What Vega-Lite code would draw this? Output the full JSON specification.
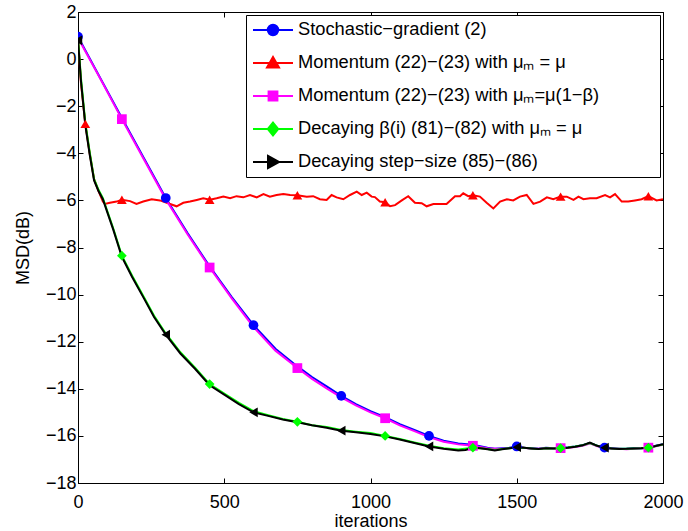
{
  "$schema": "https://vega.github.io/schema/vega-lite/v6.json",
  "width": 585,
  "height": 471,
  "autosize": {"type": "none"},
  "padding": {"left": 78, "top": 12, "right": 25, "bottom": 48},
  "background": "white",
  "config": {
    "view": {"stroke": "black", "strokeWidth": 1},
    "axis": {
      "grid": false,
      "labelFont": "Liberation Sans",
      "labelFontSize": 18,
      "labelColor": "black",
      "titleFont": "Liberation Sans",
      "titleFontSize": 18,
      "titleFontWeight": "normal",
      "titleColor": "black",
      "tickColor": "black",
      "tickWidth": 1,
      "domainColor": "black",
      "tickSize": -5,
      "labelFlush": false
    },
    "legend": {
      "labelFont": "Liberation Sans",
      "labelFontSize": 18.3,
      "labelColor": "black"
    }
  },
  "datasets": {
    "curves": [
      {"s": "A", "i": 0, "v": 0.95}, {"s": "A", "i": 75, "v": -0.78}, {"s": "A", "i": 150, "v": -2.5}, {"s": "A", "i": 225, "v": -4.2},
      {"s": "A", "i": 300, "v": -5.9}, {"s": "A", "i": 375, "v": -7.4}, {"s": "A", "i": 450, "v": -8.8}, {"s": "A", "i": 525, "v": -10.1},
      {"s": "A", "i": 600, "v": -11.3}, {"s": "A", "i": 675, "v": -12.3}, {"s": "A", "i": 750, "v": -13.05}, {"s": "A", "i": 800, "v": -13.5},
      {"s": "A", "i": 850, "v": -13.9}, {"s": "A", "i": 900, "v": -14.3}, {"s": "A", "i": 950, "v": -14.65}, {"s": "A", "i": 1000, "v": -14.95},
      {"s": "A", "i": 1050, "v": -15.2}, {"s": "A", "i": 1100, "v": -15.5}, {"s": "A", "i": 1150, "v": -15.75}, {"s": "A", "i": 1200, "v": -16.0},
      {"s": "A", "i": 1250, "v": -16.2}, {"s": "A", "i": 1300, "v": -16.32}, {"s": "A", "i": 1350, "v": -16.38}, {"s": "A", "i": 1400, "v": -16.5},
      {"s": "A", "i": 1425, "v": -16.55}, {"s": "A", "i": 1450, "v": -16.52}, {"s": "A", "i": 1475, "v": -16.5}, {"s": "A", "i": 1500, "v": -16.45},
      {"s": "A", "i": 1525, "v": -16.5}, {"s": "A", "i": 1550, "v": -16.52}, {"s": "A", "i": 1575, "v": -16.55}, {"s": "A", "i": 1600, "v": -16.5},
      {"s": "A", "i": 1625, "v": -16.52}, {"s": "A", "i": 1650, "v": -16.5}, {"s": "A", "i": 1675, "v": -16.48}, {"s": "A", "i": 1700, "v": -16.45},
      {"s": "A", "i": 1725, "v": -16.4}, {"s": "A", "i": 1750, "v": -16.3}, {"s": "A", "i": 1775, "v": -16.42}, {"s": "A", "i": 1800, "v": -16.5},
      {"s": "A", "i": 1825, "v": -16.52}, {"s": "A", "i": 1850, "v": -16.55}, {"s": "A", "i": 1875, "v": -16.55}, {"s": "A", "i": 1900, "v": -16.52},
      {"s": "A", "i": 1925, "v": -16.52}, {"s": "A", "i": 1950, "v": -16.5}, {"s": "A", "i": 1975, "v": -16.42}, {"s": "A", "i": 2000, "v": -16.35},

      {"s": "B", "i": 0, "v": 0.9}, {"s": "B", "i": 10, "v": -1.0}, {"s": "B", "i": 25, "v": -2.75}, {"s": "B", "i": 40, "v": -4.0},
      {"s": "B", "i": 55, "v": -5.1}, {"s": "B", "i": 70, "v": -5.6}, {"s": "B", "i": 85, "v": -6.05}, {"s": "B", "i": 92, "v": -6.15},
      {"s": "B", "i": 109, "v": -6.1}, {"s": "B", "i": 132, "v": -6.05}, {"s": "B", "i": 150, "v": -5.97}, {"s": "B", "i": 178, "v": -6.03},
      {"s": "B", "i": 200, "v": -6.15}, {"s": "B", "i": 223, "v": -6.05}, {"s": "B", "i": 252, "v": -5.95}, {"s": "B", "i": 280, "v": -6.0},
      {"s": "B", "i": 315, "v": -6.15}, {"s": "B", "i": 337, "v": -6.25}, {"s": "B", "i": 360, "v": -6.1}, {"s": "B", "i": 383, "v": -6.05},
      {"s": "B", "i": 406, "v": -5.98}, {"s": "B", "i": 428, "v": -5.91}, {"s": "B", "i": 451, "v": -5.97}, {"s": "B", "i": 474, "v": -5.91},
      {"s": "B", "i": 497, "v": -5.84}, {"s": "B", "i": 520, "v": -5.91}, {"s": "B", "i": 542, "v": -5.82}, {"s": "B", "i": 565, "v": -5.87},
      {"s": "B", "i": 588, "v": -5.77}, {"s": "B", "i": 611, "v": -5.87}, {"s": "B", "i": 634, "v": -5.73}, {"s": "B", "i": 656, "v": -5.84},
      {"s": "B", "i": 679, "v": -5.77}, {"s": "B", "i": 702, "v": -5.73}, {"s": "B", "i": 725, "v": -5.77}, {"s": "B", "i": 750, "v": -5.78},
      {"s": "B", "i": 782, "v": -5.84}, {"s": "B", "i": 804, "v": -5.82}, {"s": "B", "i": 827, "v": -5.95}, {"s": "B", "i": 850, "v": -5.98},
      {"s": "B", "i": 867, "v": -5.77}, {"s": "B", "i": 884, "v": -5.87}, {"s": "B", "i": 907, "v": -5.95}, {"s": "B", "i": 930, "v": -5.77},
      {"s": "B", "i": 953, "v": -5.63}, {"s": "B", "i": 970, "v": -5.77}, {"s": "B", "i": 987, "v": -5.67}, {"s": "B", "i": 1004, "v": -5.84},
      {"s": "B", "i": 1015, "v": -5.86}, {"s": "B", "i": 1032, "v": -6.05}, {"s": "B", "i": 1050, "v": -6.08}, {"s": "B", "i": 1067, "v": -6.25},
      {"s": "B", "i": 1084, "v": -6.2}, {"s": "B", "i": 1107, "v": -6.0}, {"s": "B", "i": 1129, "v": -5.82}, {"s": "B", "i": 1152, "v": -6.1},
      {"s": "B", "i": 1175, "v": -6.12}, {"s": "B", "i": 1192, "v": -6.25}, {"s": "B", "i": 1215, "v": -6.15}, {"s": "B", "i": 1238, "v": -6.15},
      {"s": "B", "i": 1260, "v": -6.15}, {"s": "B", "i": 1289, "v": -5.82}, {"s": "B", "i": 1306, "v": -5.82}, {"s": "B", "i": 1317, "v": -5.7},
      {"s": "B", "i": 1334, "v": -5.82}, {"s": "B", "i": 1351, "v": -5.78}, {"s": "B", "i": 1374, "v": -5.84}, {"s": "B", "i": 1397, "v": -6.1},
      {"s": "B", "i": 1420, "v": -6.34}, {"s": "B", "i": 1443, "v": -6.05}, {"s": "B", "i": 1466, "v": -5.95}, {"s": "B", "i": 1488, "v": -6.0},
      {"s": "B", "i": 1511, "v": -5.84}, {"s": "B", "i": 1534, "v": -5.77}, {"s": "B", "i": 1557, "v": -6.15}, {"s": "B", "i": 1580, "v": -6.05},
      {"s": "B", "i": 1603, "v": -5.87}, {"s": "B", "i": 1625, "v": -5.95}, {"s": "B", "i": 1648, "v": -5.84}, {"s": "B", "i": 1671, "v": -5.84},
      {"s": "B", "i": 1694, "v": -5.98}, {"s": "B", "i": 1711, "v": -5.84}, {"s": "B", "i": 1728, "v": -5.95}, {"s": "B", "i": 1750, "v": -5.91},
      {"s": "B", "i": 1773, "v": -5.91}, {"s": "B", "i": 1802, "v": -5.77}, {"s": "B", "i": 1819, "v": -5.87}, {"s": "B", "i": 1836, "v": -5.73},
      {"s": "B", "i": 1859, "v": -6.05}, {"s": "B", "i": 1881, "v": -6.05}, {"s": "B", "i": 1904, "v": -6.0}, {"s": "B", "i": 1927, "v": -5.95},
      {"s": "B", "i": 1950, "v": -5.82}, {"s": "B", "i": 1978, "v": -6.0}, {"s": "B", "i": 2000, "v": -5.95},

      {"s": "C", "i": 0, "v": 0.9}, {"s": "C", "i": 75, "v": -0.8}, {"s": "C", "i": 150, "v": -2.55}, {"s": "C", "i": 225, "v": -4.25},
      {"s": "C", "i": 300, "v": -5.95}, {"s": "C", "i": 375, "v": -7.45}, {"s": "C", "i": 450, "v": -8.85}, {"s": "C", "i": 525, "v": -10.15},
      {"s": "C", "i": 600, "v": -11.38}, {"s": "C", "i": 675, "v": -12.38}, {"s": "C", "i": 750, "v": -13.12}, {"s": "C", "i": 800, "v": -13.58},
      {"s": "C", "i": 850, "v": -13.98}, {"s": "C", "i": 900, "v": -14.36}, {"s": "C", "i": 950, "v": -14.7}, {"s": "C", "i": 1000, "v": -15.0},
      {"s": "C", "i": 1050, "v": -15.25}, {"s": "C", "i": 1100, "v": -15.55}, {"s": "C", "i": 1150, "v": -15.8}, {"s": "C", "i": 1200, "v": -16.05},
      {"s": "C", "i": 1250, "v": -16.25}, {"s": "C", "i": 1300, "v": -16.36}, {"s": "C", "i": 1350, "v": -16.42}, {"s": "C", "i": 1400, "v": -16.52},
      {"s": "C", "i": 1425, "v": -16.55}, {"s": "C", "i": 1450, "v": -16.55}, {"s": "C", "i": 1475, "v": -16.52}, {"s": "C", "i": 1500, "v": -16.48},
      {"s": "C", "i": 1525, "v": -16.5}, {"s": "C", "i": 1550, "v": -16.55}, {"s": "C", "i": 1575, "v": -16.55}, {"s": "C", "i": 1600, "v": -16.52},
      {"s": "C", "i": 1625, "v": -16.52}, {"s": "C", "i": 1650, "v": -16.52}, {"s": "C", "i": 1675, "v": -16.5}, {"s": "C", "i": 1700, "v": -16.47},
      {"s": "C", "i": 1725, "v": -16.42}, {"s": "C", "i": 1750, "v": -16.32}, {"s": "C", "i": 1775, "v": -16.44}, {"s": "C", "i": 1800, "v": -16.5},
      {"s": "C", "i": 1825, "v": -16.55}, {"s": "C", "i": 1850, "v": -16.55}, {"s": "C", "i": 1875, "v": -16.57}, {"s": "C", "i": 1900, "v": -16.55},
      {"s": "C", "i": 1925, "v": -16.52}, {"s": "C", "i": 1950, "v": -16.5}, {"s": "C", "i": 1975, "v": -16.44}, {"s": "C", "i": 2000, "v": -16.37},

      {"s": "D", "i": 0, "v": 0.9}, {"s": "D", "i": 10, "v": -0.8}, {"s": "D", "i": 25, "v": -2.7}, {"s": "D", "i": 40, "v": -3.95},
      {"s": "D", "i": 55, "v": -5.1}, {"s": "D", "i": 70, "v": -5.55}, {"s": "D", "i": 85, "v": -5.9}, {"s": "D", "i": 100, "v": -6.45},
      {"s": "D", "i": 120, "v": -7.17}, {"s": "D", "i": 150, "v": -8.35}, {"s": "D", "i": 185, "v": -9.2}, {"s": "D", "i": 225, "v": -10.1},
      {"s": "D", "i": 260, "v": -10.9}, {"s": "D", "i": 300, "v": -11.65}, {"s": "D", "i": 350, "v": -12.45}, {"s": "D", "i": 400, "v": -13.1},
      {"s": "D", "i": 450, "v": -13.8}, {"s": "D", "i": 500, "v": -14.2}, {"s": "D", "i": 550, "v": -14.6}, {"s": "D", "i": 600, "v": -14.95},
      {"s": "D", "i": 650, "v": -15.12}, {"s": "D", "i": 700, "v": -15.28}, {"s": "D", "i": 750, "v": -15.4}, {"s": "D", "i": 800, "v": -15.55},
      {"s": "D", "i": 850, "v": -15.62}, {"s": "D", "i": 900, "v": -15.75}, {"s": "D", "i": 950, "v": -15.82}, {"s": "D", "i": 1000, "v": -15.88},
      {"s": "D", "i": 1050, "v": -16.0}, {"s": "D", "i": 1100, "v": -16.13}, {"s": "D", "i": 1150, "v": -16.28}, {"s": "D", "i": 1200, "v": -16.42},
      {"s": "D", "i": 1250, "v": -16.52}, {"s": "D", "i": 1300, "v": -16.58}, {"s": "D", "i": 1350, "v": -16.5}, {"s": "D", "i": 1375, "v": -16.52},
      {"s": "D", "i": 1400, "v": -16.56}, {"s": "D", "i": 1425, "v": -16.6}, {"s": "D", "i": 1450, "v": -16.56}, {"s": "D", "i": 1475, "v": -16.52},
      {"s": "D", "i": 1500, "v": -16.5}, {"s": "D", "i": 1525, "v": -16.5}, {"s": "D", "i": 1550, "v": -16.53}, {"s": "D", "i": 1575, "v": -16.56},
      {"s": "D", "i": 1600, "v": -16.52}, {"s": "D", "i": 1625, "v": -16.53}, {"s": "D", "i": 1650, "v": -16.52}, {"s": "D", "i": 1675, "v": -16.49},
      {"s": "D", "i": 1700, "v": -16.45}, {"s": "D", "i": 1725, "v": -16.4}, {"s": "D", "i": 1750, "v": -16.3}, {"s": "D", "i": 1775, "v": -16.42},
      {"s": "D", "i": 1800, "v": -16.5}, {"s": "D", "i": 1825, "v": -16.53}, {"s": "D", "i": 1850, "v": -16.55}, {"s": "D", "i": 1875, "v": -16.55},
      {"s": "D", "i": 1900, "v": -16.53}, {"s": "D", "i": 1925, "v": -16.52}, {"s": "D", "i": 1950, "v": -16.5}, {"s": "D", "i": 1975, "v": -16.43},
      {"s": "D", "i": 2000, "v": -16.36},

      {"s": "E", "i": 0, "v": 0.8}, {"s": "E", "i": 10, "v": -0.9}, {"s": "E", "i": 25, "v": -2.8}, {"s": "E", "i": 40, "v": -4.05},
      {"s": "E", "i": 55, "v": -5.15}, {"s": "E", "i": 70, "v": -5.6}, {"s": "E", "i": 85, "v": -5.95}, {"s": "E", "i": 100, "v": -6.5},
      {"s": "E", "i": 120, "v": -7.22}, {"s": "E", "i": 150, "v": -8.4}, {"s": "E", "i": 185, "v": -9.25}, {"s": "E", "i": 225, "v": -10.15},
      {"s": "E", "i": 260, "v": -10.95}, {"s": "E", "i": 300, "v": -11.7}, {"s": "E", "i": 350, "v": -12.5}, {"s": "E", "i": 400, "v": -13.15},
      {"s": "E", "i": 450, "v": -13.85}, {"s": "E", "i": 500, "v": -14.25}, {"s": "E", "i": 550, "v": -14.65}, {"s": "E", "i": 600, "v": -15.0},
      {"s": "E", "i": 650, "v": -15.15}, {"s": "E", "i": 700, "v": -15.3}, {"s": "E", "i": 750, "v": -15.42}, {"s": "E", "i": 800, "v": -15.55},
      {"s": "E", "i": 850, "v": -15.65}, {"s": "E", "i": 900, "v": -15.78}, {"s": "E", "i": 950, "v": -15.85}, {"s": "E", "i": 1000, "v": -15.92},
      {"s": "E", "i": 1050, "v": -16.02}, {"s": "E", "i": 1100, "v": -16.15}, {"s": "E", "i": 1150, "v": -16.3}, {"s": "E", "i": 1200, "v": -16.45},
      {"s": "E", "i": 1250, "v": -16.55}, {"s": "E", "i": 1300, "v": -16.62}, {"s": "E", "i": 1325, "v": -16.6}, {"s": "E", "i": 1350, "v": -16.5},
      {"s": "E", "i": 1375, "v": -16.52}, {"s": "E", "i": 1400, "v": -16.57}, {"s": "E", "i": 1425, "v": -16.62}, {"s": "E", "i": 1450, "v": -16.57},
      {"s": "E", "i": 1475, "v": -16.52}, {"s": "E", "i": 1500, "v": -16.48}, {"s": "E", "i": 1525, "v": -16.5}, {"s": "E", "i": 1550, "v": -16.53},
      {"s": "E", "i": 1575, "v": -16.56}, {"s": "E", "i": 1600, "v": -16.52}, {"s": "E", "i": 1625, "v": -16.54}, {"s": "E", "i": 1650, "v": -16.53},
      {"s": "E", "i": 1675, "v": -16.5}, {"s": "E", "i": 1700, "v": -16.46}, {"s": "E", "i": 1725, "v": -16.4}, {"s": "E", "i": 1750, "v": -16.28},
      {"s": "E", "i": 1775, "v": -16.42}, {"s": "E", "i": 1800, "v": -16.5}, {"s": "E", "i": 1825, "v": -16.53}, {"s": "E", "i": 1850, "v": -16.56},
      {"s": "E", "i": 1875, "v": -16.55}, {"s": "E", "i": 1900, "v": -16.53}, {"s": "E", "i": 1925, "v": -16.52}, {"s": "E", "i": 1950, "v": -16.5},
      {"s": "E", "i": 1975, "v": -16.43}, {"s": "E", "i": 2000, "v": -16.35}
    ],
    "marks": [
      {"s": "A", "i": 0, "v": 0.95}, {"s": "A", "i": 300, "v": -5.9}, {"s": "A", "i": 600, "v": -11.3}, {"s": "A", "i": 900, "v": -14.3},
      {"s": "A", "i": 1200, "v": -16.0}, {"s": "A", "i": 1500, "v": -16.45}, {"s": "A", "i": 1800, "v": -16.5},
      {"s": "B", "i": 25, "v": -2.75}, {"s": "B", "i": 150, "v": -5.97}, {"s": "B", "i": 450, "v": -5.97}, {"s": "B", "i": 750, "v": -5.78},
      {"s": "B", "i": 1050, "v": -6.08}, {"s": "B", "i": 1350, "v": -5.78}, {"s": "B", "i": 1650, "v": -5.84}, {"s": "B", "i": 1950, "v": -5.82},
      {"s": "C", "i": 150, "v": -2.55}, {"s": "C", "i": 450, "v": -8.85}, {"s": "C", "i": 750, "v": -13.12}, {"s": "C", "i": 1050, "v": -15.25},
      {"s": "C", "i": 1350, "v": -16.42}, {"s": "C", "i": 1650, "v": -16.52}, {"s": "C", "i": 1950, "v": -16.5},
      {"s": "D", "i": 150, "v": -8.35}, {"s": "D", "i": 450, "v": -13.8}, {"s": "D", "i": 750, "v": -15.4}, {"s": "D", "i": 1050, "v": -16.0},
      {"s": "D", "i": 1350, "v": -16.5}, {"s": "D", "i": 1650, "v": -16.52}, {"s": "D", "i": 1950, "v": -16.5},
      {"s": "E", "i": 0, "v": 0.8}, {"s": "E", "i": 300, "v": -11.7}, {"s": "E", "i": 600, "v": -15.0}, {"s": "E", "i": 900, "v": -15.78},
      {"s": "E", "i": 1200, "v": -16.45}, {"s": "E", "i": 1500, "v": -16.48}, {"s": "E", "i": 1800, "v": -16.5}
    ]
  },
  "layer": [
    {
      "data": {"name": "curves"},
      "mark": {"type": "line", "strokeWidth": 2, "clip": true},
      "encoding": {
        "x": {"field": "i", "type": "quantitative", "scale": {"domain": [0, 2000], "nice": false},
              "axis": {"orient": "bottom", "title": "iterations", "format": "d", "values": [0, 500, 1000, 1500, 2000], "labelPadding": 15, "titlePadding": 1}},
        "y": {"field": "v", "type": "quantitative", "scale": {"domain": [-18, 2], "nice": false, "zero": false},
              "axis": {"orient": "left", "title": "MSD(dB)", "values": [-18, -16, -14, -12, -10, -8, -6, -4, -2, 0, 2], "labelPadding": 7, "titlePadding": 13}},
        "color": {"field": "s", "type": "nominal",
                  "scale": {"domain": ["A", "B", "C", "D", "E"], "range": ["#0000ff", "#ff0000", "#ff00ff", "#00ff00", "#000000"]},
                  "legend": null}
      }
    },
    {
      "data": {"name": "marks"},
      "mark": {"type": "point", "filled": true, "opacity": 1, "size": 95, "clip": true},
      "encoding": {
        "x": {"field": "i", "type": "quantitative", "scale": {"domain": [0, 2000], "nice": false},
              "axis": {"orient": "top", "title": null, "labels": false, "values": [0, 500, 1000, 1500, 2000]}},
        "y": {"field": "v", "type": "quantitative", "scale": {"domain": [-18, 2], "nice": false, "zero": false},
              "axis": {"orient": "right", "title": null, "labels": false, "values": [-18, -16, -14, -12, -10, -8, -6, -4, -2, 0, 2]}},
        "color": {"field": "s", "type": "nominal",
                  "scale": {"domain": ["A", "B", "C", "D", "E"], "range": ["#0000ff", "#ff0000", "#ff00ff", "#00ff00", "#000000"]},
                  "legend": null},
        "shape": {"field": "s", "type": "nominal",
                  "scale": {"domain": ["A", "B", "C", "D", "E"], "range": ["circle", "triangle-up", "square", "diamond", "triangle-left"]},
                  "legend": null}
      }
    },
    {
      "data": {"name": "marks"},
      "transform": [{"filter": "datum.i < 0"}],
      "mark": {"type": "point", "filled": true, "opacity": 1, "size": 1600, "strokeWidth": 2},
      "encoding": {
        "shape": {"field": "s", "type": "nominal",
                  "scale": {"domain": ["A", "B", "C", "D", "E"],
                            "range": ["M-1,0H1M0.26,0A0.26,0.26,0,1,1,-0.26,0A0.26,0.26,0,1,1,0.26,0Z",
                                      "M-1,0H1M-0.3,0.22L0.3,0.22L0,-0.3Z",
                                      "M-1,0H1M-0.22,-0.22H0.22V0.22H-0.22Z",
                                      "M-1,0H1M0,-0.32L0.26,0L0,0.32L-0.26,0Z",
                                      "M-1,0H1M-0.25,-0.3L0.3,0L-0.25,0.3Z"]},
                  "legend": {"title": " ", "titleOrient": "right", "titlePadding": 50, "titleFontSize": 18,
                             "orient": "top-right", "offset": 3,
                             "symbolSize": 1600, "symbolStrokeWidth": 2, "symbolOpacity": 1, "clipHeight": 18,
                             "strokeColor": "black", "fillColor": "white", "padding": 6, "rowPadding": 14, "labelOffset": 4, "labelLimit": 600,
                             "encoding": {"symbols": {
                               "fill": {"value": {"expr": "scale('color', datum.value)"}},
                               "stroke": {"value": {"expr": "scale('color', datum.value)"}},
                               "strokeWidth": {"value": 2},
                               "opacity": {"value": 1}
                             }},
                             "labelExpr": "datum.label == 'A' ? 'Stochastic−gradient (2)' : datum.label == 'B' ? 'Momentum (22)−(23) with  μₘ = μ' : datum.label == 'C' ? 'Momentum (22)−(23) with  μₘ=μ(1−β)' : datum.label == 'D' ? 'Decaying  β(i) (81)−(82) with μₘ = μ' : 'Decaying step−size (85)−(86)'"}}
      }
    }
  ],
  "resolve": {"scale": {"shape": "independent"}, "axis": {"x": "independent", "y": "independent"}}
}
